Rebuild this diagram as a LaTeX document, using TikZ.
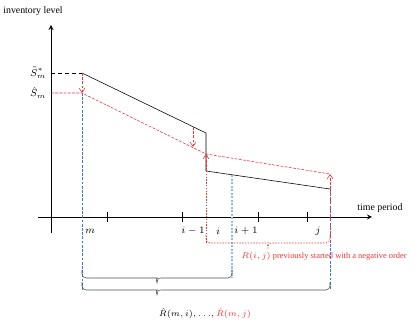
\documentclass[tikz,border=0pt]{standalone}
\usepackage{fontspec}
\setmainfont{Liberation Serif}
\usetikzlibrary{arrows.meta}
\definecolor{ordred}{RGB}{240,50,50}
\definecolor{ordblue}{RGB}{60,120,220}
\definecolor{lightblue}{RGB}{150,185,240}
\definecolor{bracegray}{RGB}{80,80,80}

\begin{document}
\begin{tikzpicture}[
    >=stealth,
    x=0.025cm, y=-0.025cm,
    every node/.style={font=\fontsize{7}{8}\selectfont},
    redline/.style={ordred, dash pattern=on 2pt off 1pt},
    redarrow/.style={ordred, dash pattern=on 2pt off 1pt, -{Straight Barb[length=3pt, width=4pt]}},
    reddots/.style={ordred, dash pattern=on 1pt off 1pt},
    blueline/.style={ordblue, dash pattern=on 2pt off 1pt}
]
\useasboundingbox (0,0) rectangle (415,326);

% Axes
\draw[->, semithick] (38,217) -- (372,217);
\draw[->, semithick] (51,233) -- (51,25);
\node (tlabel) at (380,208) {time period};
\node (ilabel) at (33,11) {inventory level};

% Period ticks
\foreach \x in {107,182,258,307}
    \draw (\x,212) -- (\x,222);
\foreach \x/\t/\n in {90/m/pm, 193/i-1/pim, 218/i/pi, 246/i+1/pip, 318/j/pj}
    \node (\n) at (\x,231) {$\t$};

% Order-up-to levels
\coordinate (s1) at (51,73);
\coordinate (s2) at (51,93);
\node[anchor=east, inner sep=1pt] (Sstar) at (48,73) {$\tilde{S}^*_m$};
\node[anchor=east, inner sep=1pt] (Shat) at (48,93) {$\hat{S}_m$};
\coordinate (A) at (82,73);
\coordinate (B) at (206,133);
\coordinate (C) at (206,171);
\coordinate (D) at (330,189);
\coordinate (Ah) at (82,93);
\coordinate (Bh) at (206,154);
\coordinate (Dh) at (330,174);
\coordinate (p1) at (193,127);
\coordinate (p2) at (193,147);

% Inventory paths
\draw[densely dashed] (s1) -- (A);
\draw (A) -- (B) -- (C) -- (D);
\draw[redline] (s2) -- (Ah) -- (Bh) -- (Dh);

% Corrections
\draw[redarrow] (A) -- (Ah);
\draw[redarrow] (p1) -- (p2);
\draw[redarrow] (C) -- (Bh);
\draw[redarrow] (D) -- (Dh);

% Period boundaries
\draw[blueline] (Ah) -- (82,290);
\draw[lightblue, line width=1.2pt, dash pattern=on 1.5pt off 1pt] (232,175) -- (232,278);
\draw[blueline] (D) -- (330,290);
\draw[reddots] (C) -- (206,243);
\draw[reddots] (D) -- (330,243);

% Braces
\foreach \l/\r/\t/\y/\c in {82/232/157/278/bracegray, 82/330/157/290/bracegray, 206/330/268/243/reddots}
    \draw[\c, rounded corners=3pt] (\l,\y-8) -- (\l,\y) -- (\t-4,\y) [sharp corners]
        .. controls (\t-1,\y) .. (\t,\y+5) .. controls (\t+1,\y) .. (\t+4,\y)
        [rounded corners=3pt] -- (\r,\y) -- (\r,\y-8);

% Labels
\node[ordred, font=\fontsize{6}{7}\selectfont] (neg) at (324,256) {$R(i,j)$ previously started with a negative order};
\node[font=\fontsize{6.5}{7}\selectfont] (rlist) at (205,314) {$\hat{R}(m,i),{\ldots},\textcolor{ordred}{\hat{R}(m,j)}$};

\end{tikzpicture}
\end{document}
